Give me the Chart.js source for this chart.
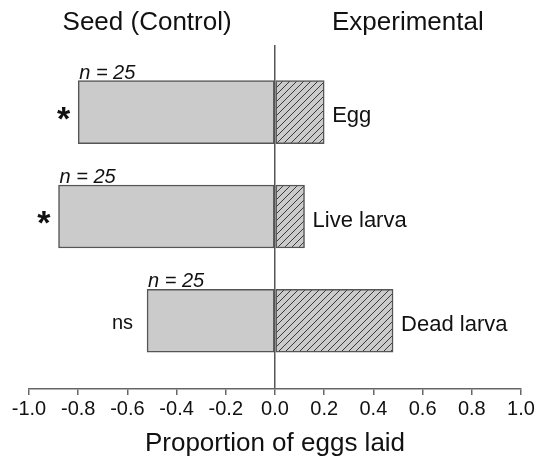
<!DOCTYPE html>
<html>
<head>
<meta charset="utf-8">
<script src="https://cdn.jsdelivr.net/npm/chart.js@4/dist/chart.umd.min.js"></script>
<style>
html,body{margin:0;padding:0;background:#fff;}
#wrap{width:538px;height:457px;}
</style>
</head>
<body>
<div id="wrap"><canvas id="c" width="538" height="457"></canvas></div>
<script>
// ---- data ----
const categories = ['Egg', 'Live larva', 'Dead larva'];
const controlValues = [-0.80, -0.88, -0.52];
const experimentalValues = [0.20, 0.12, 0.48];
const sampleLabels = ['n = 25', 'n = 25', 'n = 25'];
const significance = ['*', '*', 'ns'];
const xTickValues = [-1.0, -0.8, -0.6, -0.4, -0.2, 0.0, 0.2, 0.4, 0.6, 0.8, 1.0];
const groupTitles = ['Seed (Control)', 'Experimental'];
const axisTitle = 'Proportion of eggs laid';

const FONT = '"Liberation Sans", Arial, Helvetica, sans-serif';

function hatchPattern() {
  const s = 7;
  const pc = document.createElement('canvas');
  pc.width = s; pc.height = s;
  const p = pc.getContext('2d');
  p.fillStyle = '#cbcbcb';
  p.fillRect(0, 0, s, s);
  p.strokeStyle = '#3a3a3a';
  p.lineWidth = 1;
  p.beginPath();
  p.moveTo(-1, s + 1); p.lineTo(s + 1, -1);
  p.moveTo(-1, 1); p.lineTo(1, -1);
  p.moveTo(s - 1, s + 1); p.lineTo(s + 1, s - 1);
  p.stroke();
  return p.createPattern(pc, 'repeat');
}

const labelPlugin = {
  id: 'labels',
  afterDatasetsDraw(chart) {
    const ctx = chart.ctx;
    const xs = chart.scales.x;
    const cMeta = chart.getDatasetMeta(0);
    const eMeta = chart.getDatasetMeta(1);
    ctx.save();
    ctx.fillStyle = '#111';
    // group titles
    ctx.font = '26px ' + FONT;
    ctx.textAlign = 'center';
    ctx.textBaseline = 'middle';
    ctx.fillText(groupTitles[0], xs.getPixelForValue(-0.52), 23);
    ctx.fillText(groupTitles[1], xs.getPixelForValue(0.54), 23);
    categories.forEach((cat, i) => {
      const ce = cMeta.data[i];
      const ee = eMeta.data[i];
      const top = ce.y - ce.height / 2;
      // n labels
      ctx.font = 'italic 20px ' + FONT;
      ctx.textAlign = 'left';
      ctx.textBaseline = 'alphabetic';
      ctx.fillText(sampleLabels[i], ce.x + 1, top - 2);
      // category label
      ctx.font = '22px ' + FONT;
      ctx.textBaseline = 'middle';
      ctx.fillText(cat, ee.x + 8, ee.y + 4);
      // significance
      ctx.textAlign = 'right';
      if (significance[i] === '*') {
        ctx.font = 'bold 34px ' + FONT;
        ctx.fillText('*', ce.x - 8, ce.y + 8);
      } else {
        ctx.font = '20px ' + FONT;
        ctx.fillText(significance[i], ce.x - 14, ce.y + 3);
      }
    });
    ctx.restore();
  }
};

const hatch = hatchPattern();

new Chart(document.getElementById('c'), {
  type: 'bar',
  data: {
    datasets: [
      {
        label: 'Seed (Control)',
        data: controlValues.map((v, i) => ({ x: v, y: i })),
        backgroundColor: '#cbcbcb',
        borderColor: '#555',
        borderWidth: 1.5,
        borderSkipped: false,
        barThickness: 63,
        grouped: false
      },
      {
        label: 'Experimental',
        data: experimentalValues.map((v, i) => ({ x: v, y: i })),
        backgroundColor: hatch,
        borderColor: '#555',
        borderWidth: 1.5,
        borderSkipped: false,
        barThickness: 63,
        grouped: false
      }
    ]
  },
  options: {
    indexAxis: 'y',
    responsive: false,
    animation: false,
    layout: { padding: { top: 45, left: 29, right: 17, bottom: 0 } },
    plugins: { legend: { display: false }, tooltip: { enabled: false }, title: { display: false } },
    scales: {
      y: {
        type: 'linear',
        reverse: true,
        offset: false,
        min: -0.644,
        max: 2.654,
        display: false,
        grid: { offset: false }
      },
      x: {
        type: 'linear',
        min: -1,
        max: 1,
        afterBuildTicks(scale) { scale.ticks = xTickValues.map(v => ({ value: v })); },
        ticks: {
          callback: v => Number(v).toFixed(1),
          color: '#111',
          font: { size: 20, family: FONT },
          padding: 2,
          maxRotation: 0,
          autoSkip: false
        },
        grid: {
          drawOnChartArea: true,
          color: ctx => (ctx.tick && ctx.tick.value === 0) ? '#555' : 'rgba(0,0,0,0)',
          tickColor: '#666',
          tickLength: 6,
          lineWidth: 1.5
        },
        border: { display: true, color: '#666', width: 1.5 },
        title: {
          display: true,
          text: axisTitle,
          color: '#111',
          font: { size: 26, family: FONT, lineHeight: 1.0 },
          padding: { top: 8, bottom: 0 }
        }
      }
    }
  },
  plugins: [labelPlugin]
});
</script>
</body>
</html>
